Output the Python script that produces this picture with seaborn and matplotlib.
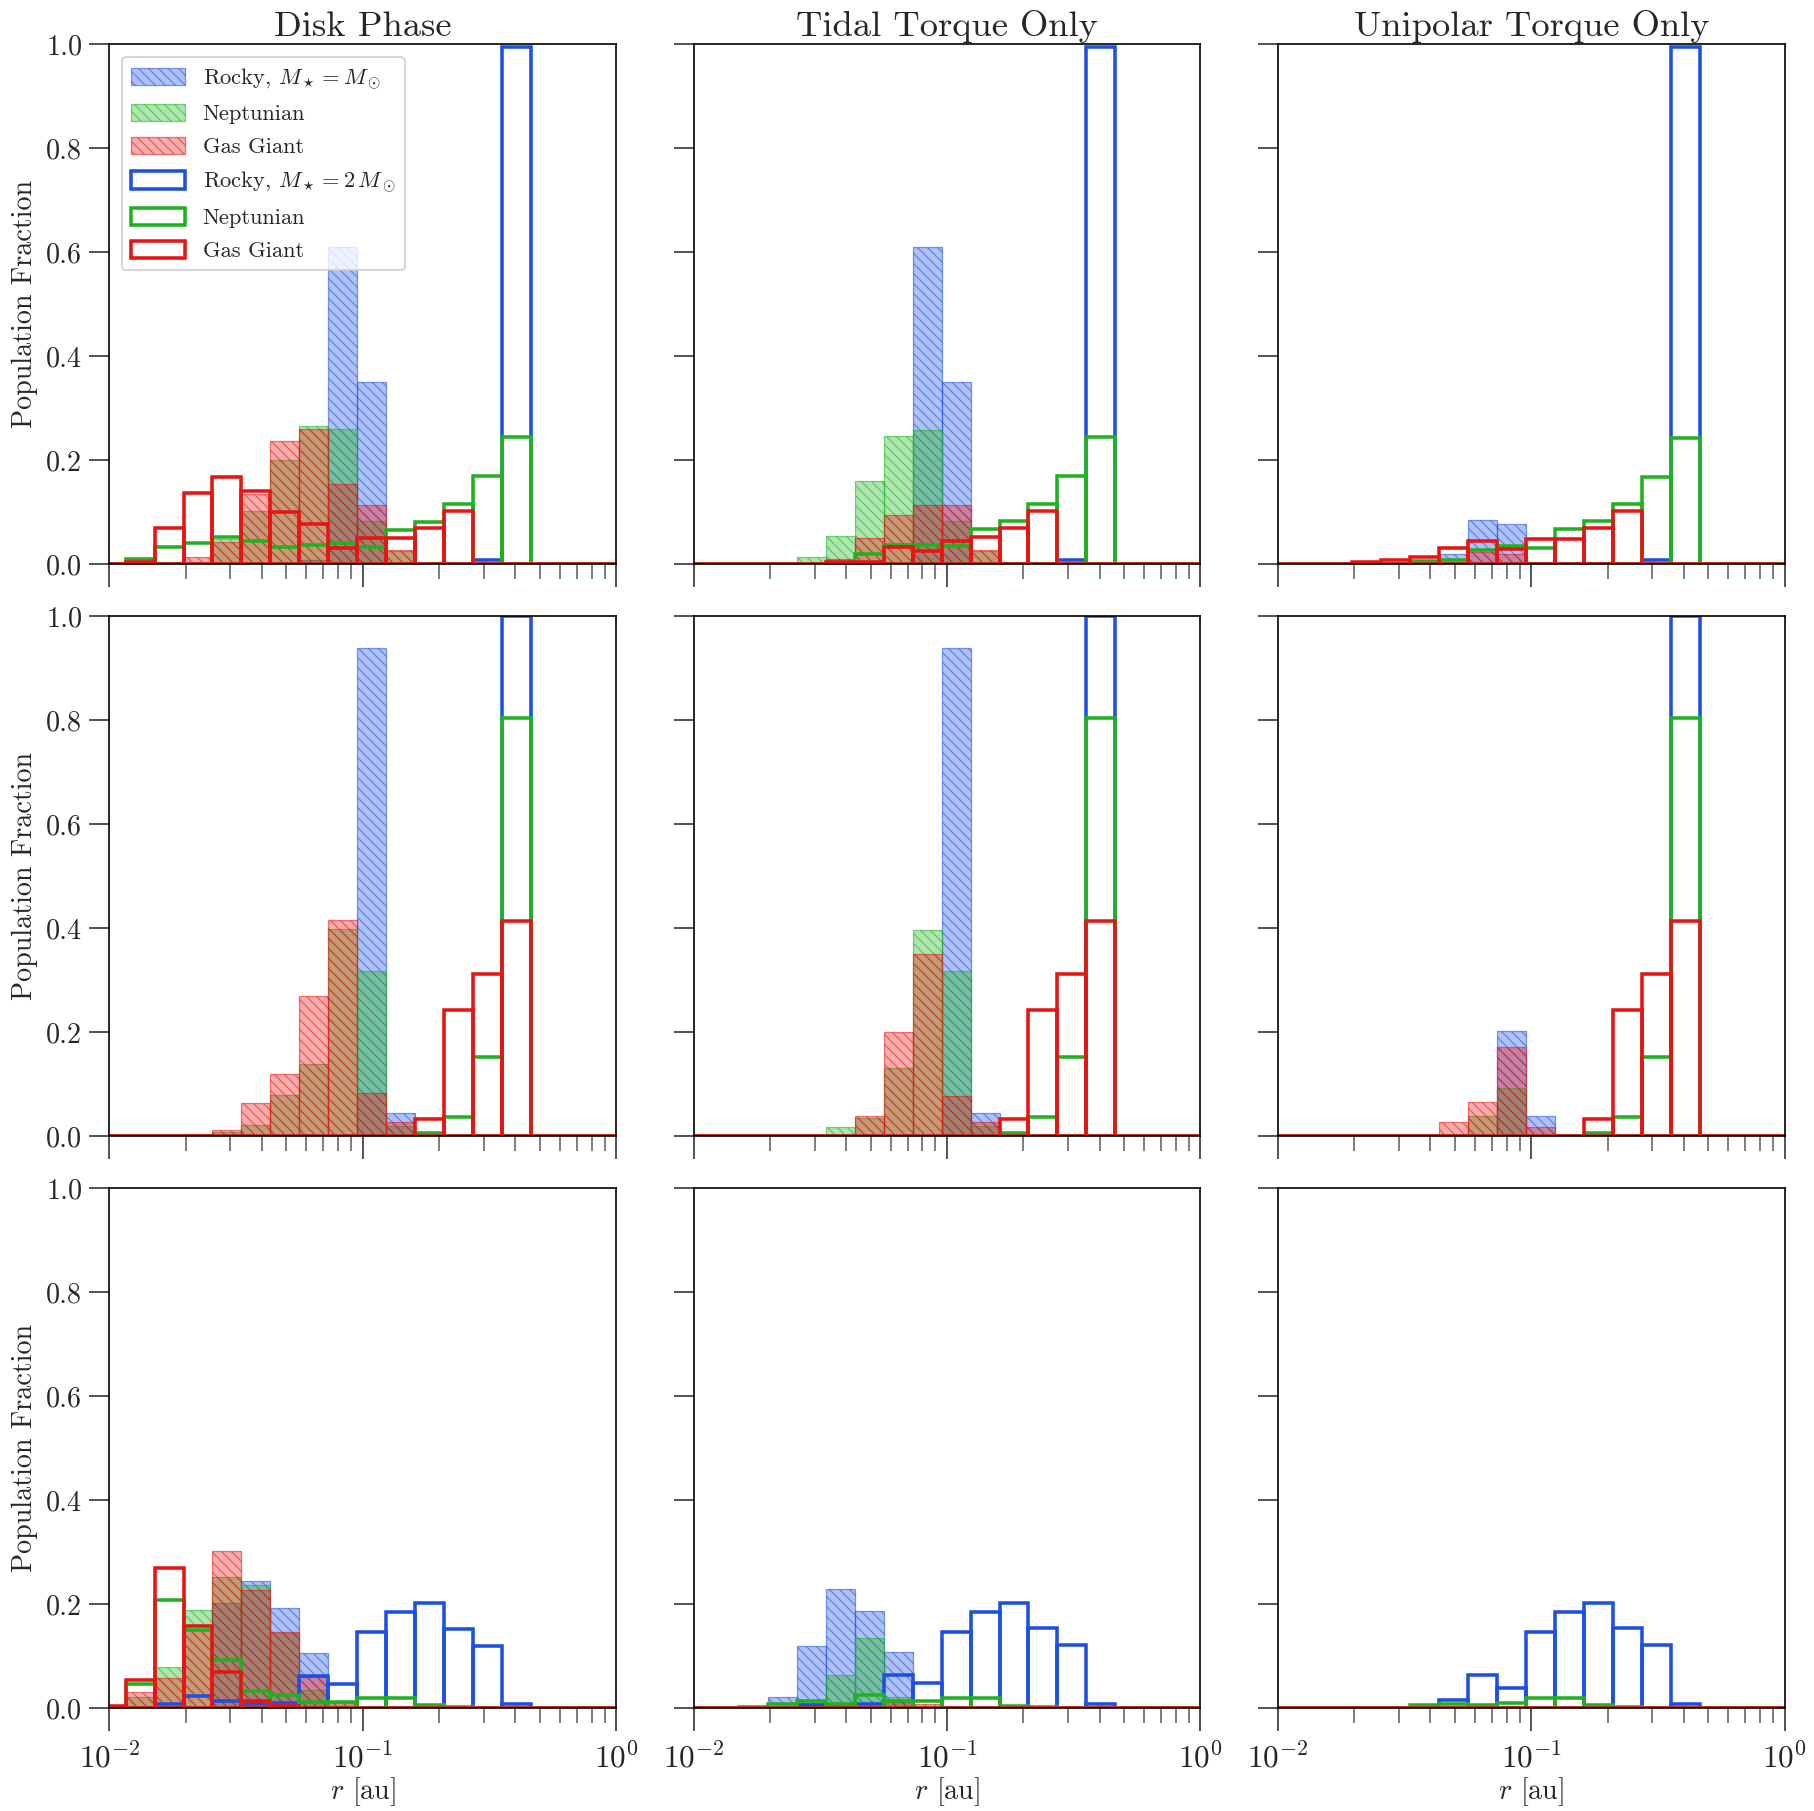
import numpy as np
import pandas as pd
import matplotlib
matplotlib.use("Agg")
import matplotlib.pyplot as plt
import seaborn as sns
from matplotlib.patches import Patch
from matplotlib.colors import to_rgba

# ---------------- data (population fraction per log-r bin, bins k0..k14) ----------------
LOG_EDGE0 = -2.05      # log10 of first bin edge
LOG_STEP = 0.1143      # bin width in dex
N_BINS = 19            # bins continue (empty) past r = 1 au

col_titles = ["Disk Phase", "Tidal Torque Only", "Unipolar Torque Only"]
series_labels_1 = [r"Rocky, $M_\star = M_\odot$", "Neptunian", "Gas Giant"]
series_labels_2 = [r"Rocky, $M_\star = 2\,M_\odot$", "Neptunian", "Gas Giant"]

# Row 1
r1_disk_rocky_1 = [0, 0, 0, 0, 0, 0, 0, 0.008, 0.61, 0.35, 0, 0, 0, 0, 0]
r1_disk_nep_1 = [0, 0, 0, 0, 0.048, 0.102, 0.20, 0.265, 0.26, 0.083, 0.025, 0, 0, 0, 0]
r1_disk_gg_1 = [0, 0, 0, 0.014, 0.042, 0.136, 0.237, 0.26, 0.155, 0.114, 0.028, 0, 0, 0, 0]
r1_disk_rocky_2 = [0, 0, 0, 0, 0, 0, 0, 0, 0, 0, 0, 0, 0, 0.008, 0.995]
r1_disk_nep_2 = [0, 0.011, 0.034, 0.041, 0.053, 0.044, 0.034, 0.037, 0.041, 0.034, 0.066, 0.081, 0.115, 0.169, 0.244]
r1_disk_gg_2 = [0, 0.004, 0.069, 0.138, 0.167, 0.140, 0.101, 0.078, 0.031, 0.050, 0.051, 0.070, 0.102, 0, 0]

r1_tidal_rocky_1 = [0, 0, 0, 0, 0, 0, 0, 0, 0.61, 0.35, 0, 0, 0, 0, 0]
r1_tidal_nep_1 = [0, 0, 0, 0, 0.014, 0.054, 0.16, 0.246, 0.258, 0.083, 0.025, 0, 0, 0, 0]
r1_tidal_gg_1 = [0, 0, 0, 0, 0, 0.01, 0.05, 0.095, 0.114, 0.114, 0.028, 0, 0, 0, 0]
r1_tidal_rocky_2 = [0, 0, 0, 0, 0, 0, 0, 0, 0, 0, 0, 0, 0, 0.008, 0.995]
r1_tidal_nep_2 = [0, 0, 0, 0, 0, 0.003, 0.020, 0.038, 0.038, 0.035, 0.067, 0.083, 0.115, 0.169, 0.244]
r1_tidal_gg_2 = [0, 0, 0, 0, 0, 0.004, 0.004, 0.033, 0.025, 0.044, 0.053, 0.070, 0.102, 0, 0]

r1_uni_rocky_1 = [0, 0, 0, 0, 0, 0, 0.019, 0.086, 0.077, 0, 0, 0, 0, 0, 0]
r1_uni_nep_1 = [0, 0, 0, 0, 0, 0, 0, 0, 0, 0, 0, 0, 0, 0, 0]
r1_uni_gg_1 = [0, 0, 0, 0, 0, 0, 0, 0.024, 0.019, 0, 0, 0, 0, 0, 0]
r1_uni_rocky_2 = [0, 0, 0, 0, 0, 0, 0, 0, 0, 0, 0, 0, 0, 0.008, 0.995]
r1_uni_nep_2 = [0, 0, 0, 0, 0, 0.006, 0.008, 0.028, 0.035, 0.032, 0.067, 0.083, 0.115, 0.168, 0.243]
r1_uni_gg_2 = [0, 0, 0, 0.005, 0.009, 0.014, 0.031, 0.044, 0.030, 0.049, 0.049, 0.069, 0.102, 0, 0]

# Row 2
r2_disk_rocky_1 = [0, 0, 0, 0, 0, 0, 0, 0, 0, 0.94, 0.0455, 0, 0, 0, 0]
r2_disk_nep_1 = [0, 0, 0.002, 0.004, 0.008, 0.021, 0.079, 0.14, 0.398, 0.317, 0.02, 0, 0, 0, 0]
r2_disk_gg_1 = [0, 0, 0, 0.004, 0.013, 0.065, 0.119, 0.269, 0.416, 0.083, 0.028, 0, 0, 0, 0]
r2_disk_rocky_2 = [0, 0, 0, 0, 0, 0, 0, 0, 0, 0, 0, 0, 0, 0, 1.0]
r2_disk_nep_2 = [0, 0, 0, 0, 0, 0, 0, 0, 0, 0, 0, 0.007, 0.037, 0.152, 0.805]
r2_disk_gg_2 = [0, 0, 0, 0, 0, 0, 0, 0, 0, 0, 0, 0.033, 0.243, 0.313, 0.414]

r2_tidal_rocky_1 = [0, 0, 0, 0, 0, 0, 0, 0, 0, 0.94, 0.045, 0, 0, 0, 0]
r2_tidal_nep_1 = [0, 0, 0, 0, 0, 0.0186, 0.036, 0.132, 0.396, 0.317, 0.02, 0, 0, 0, 0]
r2_tidal_gg_1 = [0, 0, 0, 0, 0, 0, 0.039, 0.20, 0.351, 0.077, 0.027, 0, 0, 0, 0]
r2_tidal_rocky_2 = [0, 0, 0, 0, 0, 0, 0, 0, 0, 0, 0, 0, 0, 0, 1.0]
r2_tidal_nep_2 = [0, 0, 0, 0, 0, 0, 0, 0, 0, 0, 0, 0.007, 0.037, 0.152, 0.805]
r2_tidal_gg_2 = [0, 0, 0, 0, 0, 0, 0, 0, 0, 0, 0, 0.033, 0.243, 0.313, 0.414]

r2_uni_rocky_1 = [0, 0, 0, 0, 0, 0, 0, 0, 0.202, 0.039, 0, 0, 0, 0, 0]
r2_uni_nep_1 = [0, 0, 0, 0, 0, 0, 0, 0.039, 0.092, 0, 0, 0, 0, 0, 0]
r2_uni_gg_1 = [0, 0, 0, 0, 0, 0, 0.0276, 0.0667, 0.172, 0.0173, 0, 0, 0, 0, 0]
r2_uni_rocky_2 = [0, 0, 0, 0, 0, 0, 0, 0, 0, 0, 0, 0, 0, 0, 1.0]
r2_uni_nep_2 = [0, 0, 0, 0, 0, 0, 0, 0, 0, 0, 0, 0.007, 0.037, 0.152, 0.805]
r2_uni_gg_2 = [0, 0, 0, 0, 0, 0, 0, 0, 0, 0, 0, 0.033, 0.243, 0.313, 0.414]

# Row 3
r3_disk_rocky_1 = [0, 0, 0, 0, 0.202, 0.245, 0.192, 0.107, 0, 0, 0, 0, 0, 0, 0]
r3_disk_nep_1 = [0.005, 0.022, 0.079, 0.19, 0.253, 0.237, 0.145, 0.035, 0.013, 0, 0, 0, 0, 0, 0]
r3_disk_gg_1 = [0.005, 0.032, 0.058, 0.15, 0.303, 0.228, 0.147, 0.061, 0.013, 0, 0, 0, 0, 0, 0]
r3_disk_rocky_2 = [0, 0, 0.009, 0.024, 0.015, 0.009, 0.01, 0.063, 0.047, 0.146, 0.185, 0.202, 0.153, 0.12, 0.008]
r3_disk_nep_2 = [0, 0.047, 0.208, 0.15, 0.092, 0.033, 0.026, 0.013, 0.013, 0.019, 0.019, 0.006, 0.003, 0, 0]
r3_disk_gg_2 = [0.004, 0.055, 0.269, 0.158, 0.0705, 0.0147, 0.005, 0, 0, 0, 0, 0, 0, 0, 0]

r3_tidal_rocky_1 = [0, 0, 0, 0.021, 0.12, 0.229, 0.187, 0.108, 0, 0, 0, 0, 0, 0, 0]
r3_tidal_nep_1 = [0, 0, 0, 0, 0.01, 0.064, 0.135, 0.021, 0, 0, 0, 0, 0, 0, 0]
r3_tidal_gg_1 = [0, 0, 0, 0, 0, 0, 0, 0.012, 0.008, 0, 0, 0, 0, 0, 0]
r3_tidal_rocky_2 = [0, 0, 0, 0, 0.007, 0.004, 0.008, 0.064, 0.048, 0.146, 0.185, 0.203, 0.154, 0.122, 0.008]
r3_tidal_nep_2 = [0, 0, 0.003, 0.008, 0.015, 0.009, 0.026, 0.015, 0.015, 0.02, 0.02, 0.005, 0.003, 0, 0]
r3_tidal_gg_2 = [0, 0, 0, 0, 0, 0, 0, 0, 0, 0, 0, 0, 0, 0, 0]

r3_uni_rocky_1 = [0, 0, 0, 0, 0, 0, 0, 0, 0, 0, 0, 0, 0, 0, 0]
r3_uni_nep_1 = [0, 0, 0, 0, 0, 0, 0, 0, 0, 0, 0, 0, 0, 0, 0]
r3_uni_gg_1 = [0, 0, 0, 0, 0, 0, 0, 0, 0, 0, 0, 0, 0, 0, 0]
r3_uni_rocky_2 = [0, 0, 0, 0, 0, 0, 0.016, 0.064, 0.04, 0.146, 0.185, 0.203, 0.154, 0.122, 0.008]
r3_uni_nep_2 = [0, 0, 0, 0, 0, 0.006, 0.008, 0.006, 0.01, 0.02, 0.02, 0.006, 0.003, 0, 0]
r3_uni_gg_2 = [0, 0, 0, 0, 0, 0, 0, 0, 0, 0, 0, 0, 0, 0, 0]

panels = [
    [(r1_disk_rocky_1, r1_disk_nep_1, r1_disk_gg_1, r1_disk_rocky_2, r1_disk_nep_2, r1_disk_gg_2),
     (r1_tidal_rocky_1, r1_tidal_nep_1, r1_tidal_gg_1, r1_tidal_rocky_2, r1_tidal_nep_2, r1_tidal_gg_2),
     (r1_uni_rocky_1, r1_uni_nep_1, r1_uni_gg_1, r1_uni_rocky_2, r1_uni_nep_2, r1_uni_gg_2)],
    [(r2_disk_rocky_1, r2_disk_nep_1, r2_disk_gg_1, r2_disk_rocky_2, r2_disk_nep_2, r2_disk_gg_2),
     (r2_tidal_rocky_1, r2_tidal_nep_1, r2_tidal_gg_1, r2_tidal_rocky_2, r2_tidal_nep_2, r2_tidal_gg_2),
     (r2_uni_rocky_1, r2_uni_nep_1, r2_uni_gg_1, r2_uni_rocky_2, r2_uni_nep_2, r2_uni_gg_2)],
    [(r3_disk_rocky_1, r3_disk_nep_1, r3_disk_gg_1, r3_disk_rocky_2, r3_disk_nep_2, r3_disk_gg_2),
     (r3_tidal_rocky_1, r3_tidal_nep_1, r3_tidal_gg_1, r3_tidal_rocky_2, r3_tidal_nep_2, r3_tidal_gg_2),
     (r3_uni_rocky_1, r3_uni_nep_1, r3_uni_gg_1, r3_uni_rocky_2, r3_uni_nep_2, r3_uni_gg_2)],
]

y_ticks = [0.0, 0.2, 0.4, 0.6, 0.8, 1.0]

# ---------------- style ----------------
sns.set_theme(style="ticks")
plt.rcParams.update({
    "font.family": ["cmr10", "DejaVu Serif"],
    "mathtext.fontset": "cm",
    "axes.formatter.use_mathtext": True,
    "axes.unicode_minus": False,
    "hatch.linewidth": 0.6,
    "axes.linewidth": 0.8,
    "axes.edgecolor": "black",
})

BLUE = "#1c4fe4"
GREEN = "#1fb21f"
RED = "#e81414"
colors = [BLUE, GREEN, RED]
HATCH = "\\" * 5
FILL_ALPHA = 0.35
EDGE_ALPHA = 0.55

edges = 10 ** (LOG_EDGE0 + LOG_STEP * np.arange(N_BINS + 1))
centers = np.sqrt(edges[:-1] * edges[1:])
bin_list = [float(e) for e in edges]


def frame(vals):
    w = np.zeros(N_BINS)
    w[:len(vals)] = vals
    return pd.DataFrame({"r": centers, "w": w})


W, H, DPI = 1814, 1811, 150
fig = plt.figure(figsize=(W / DPI, H / DPI), dpi=DPI)
fig.patch.set_facecolor("white")

left_px = [109.3, 693.6, 1277.9]
top_px = [44.3, 616.3, 1188.3]
ax_w, ax_h = 506.8, 520.0

axes = np.empty((3, 3), dtype=object)
for i in range(3):
    for j in range(3):
        ax = fig.add_axes([left_px[j] / W, 1 - (top_px[i] + ax_h) / H, ax_w / W, ax_h / H])
        axes[i, j] = ax
        series = panels[i][j]
        for s in range(3):
            c = colors[s]
            sns.histplot(data=frame(series[s]), x="r", weights="w", bins=bin_list, stat="count",
                         element="bars", fill=True, color=c, alpha=FILL_ALPHA,
                         edgecolor=to_rgba(c, EDGE_ALPHA), linewidth=0.6, hatch=HATCH, ax=ax)
        for s in range(3):
            c = colors[s]
            sns.histplot(data=frame(series[3 + s]), x="r", weights="w", bins=bin_list, stat="count",
                         element="bars", fill=False, color=c, linewidth=1.7, ax=ax)
        ax.set_xscale("log")
        ax.set_xlim(1e-2, 1e0)
        ax.set_ylim(0, 1)
        ax.set_yticks(y_ticks)
        ax.set_yticklabels([f"{t:.1f}" for t in y_ticks])
        ax.tick_params(axis="y", which="major", direction="out", length=9.5, width=0.8,
                       labelsize=13.5, color="#333333")
        ax.tick_params(axis="x", which="major", direction="out", length=11, width=0.8,
                       labelsize=15, color="#333333", pad=5)
        ax.tick_params(axis="x", which="minor", direction="out", length=7, width=0.8,
                       color="#666666")
        for sp in ax.spines.values():
            sp.set_visible(True)
            sp.set_linewidth(0.8)
            sp.set_color("black")
        ax.set_xlabel("")
        ax.set_ylabel("")
        if j == 0:
            ax.set_ylabel("Population Fraction", fontsize=13.5)
        else:
            ax.tick_params(axis="y", labelleft=False)
        if i == 2:
            ax.set_xlabel(r"$r$ [au]", fontsize=13.5, labelpad=1)
        else:
            ax.tick_params(axis="x", which="both", labelbottom=False)
        if i == 0:
            ax.set_title(col_titles[j], fontsize=17.5, pad=4)

handles = []
for s in range(3):
    handles.append(Patch(facecolor=to_rgba(colors[s], FILL_ALPHA), edgecolor=to_rgba(colors[s], EDGE_ALPHA),
                         hatch=HATCH, linewidth=0.6, label=series_labels_1[s]))
for s in range(3):
    handles.append(Patch(facecolor="none", edgecolor=colors[s], linewidth=1.7, label=series_labels_2[s]))
axes[0, 0].legend(handles=handles, loc="upper left", fontsize=10.8, handlelength=2.4,
                  handleheight=0.8, labelspacing=0.55, borderaxespad=0.55, frameon=True,
                  fancybox=True, framealpha=0.8, edgecolor="#cccccc")

fig.savefig("out.png", dpi=DPI, facecolor="white")
